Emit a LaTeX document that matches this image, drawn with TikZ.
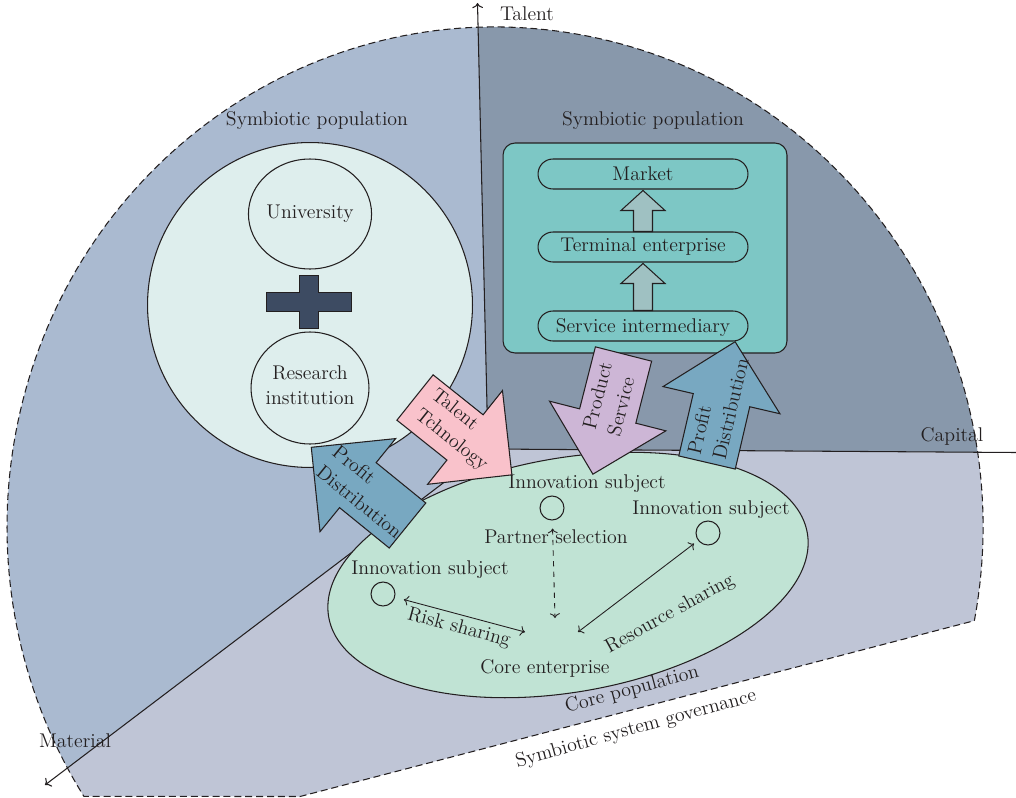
\documentclass[tikz,border=0pt]{standalone}
\usepackage{tkz-euclide}
\usetikzlibrary{shapes.geometric,calc}
\definecolor{LeftClr}{RGB}{170,186,208}
\definecolor{TopClr}{RGB}{136,152,171}
\definecolor{BotClr}{RGB}{191,197,214}
\definecolor{CircClr}{RGB}{222,238,237}
\definecolor{CoreClr}{RGB}{192,227,212}
\definecolor{BoxClr}{RGB}{125,199,197}
\definecolor{StepClr}{RGB}{159,193,194}
\definecolor{PinkClr}{RGB}{249,194,203}
\definecolor{LilacClr}{RGB}{205,182,214}
\definecolor{FlowClr}{RGB}{120,168,193}
\definecolor{PlusClr}{RGB}{61,75,98}
\definecolor{LineClr}{RGB}{35,31,32}

\begin{document}
\begin{tikzpicture}[x=0.02cm,y=-0.02cm,color=LineClr,line width=0.6pt,
  font=\fontsize{11.3}{14.5}\selectfont,
  popborder/.style={dash pattern=on 4pt off 2.2pt,line width=0.6pt},
  pillbox/.style={draw,fill=BoxClr,rounded corners=0.3cm,minimum width=4.2cm,minimum height=0.6cm,inner sep=0},
  membercirc/.style={draw,ellipse,fill=CircClr,minimum width=2.36cm,minimum height=2.2cm,inner sep=0,align=center},
  subjectcirc/.style={draw,circle,minimum size=0.48cm,inner sep=0},
  arrowtext/.style={align=left,inner sep=0,anchor=west},
  sharelink/.style={<->,line width=0.5pt},
  pics/blockarrow/.style={code={
    \draw[pic actions] (0,-29) -- (64,-29) -- (64,-60) -- (124,0) -- (64,60) -- (64,29) -- (0,29) -- cycle;}},
  pics/stepup/.style={code={
    \draw[pic actions] (0,-9.5) -- (#1-20,-9.5) -- (#1-20,-22) -- (#1,0) -- (#1-20,22) -- (#1-20,9.5) -- (0,9.5) -- cycle;}}]
\useasboundingbox (0,0) rectangle (1016,797);
\tkzSetUpLine[line width=0.6pt,color=LineClr]

\tkzDefPoints{488/449/O,477.5/3/T,1016/452.5/K,45/785/M}

% the three sectors
\begin{scope}
\clip ([shift={(495,527)}]10.8:488 and 500) arc[start angle=10.8,end angle=-212.6,x radius=488,y radius=500]
  -- (300,796.5) -- cycle;
\fill[LeftClr] (O) -- (477,-10) -- (-10,-10) -- (-10,826.6) -- cycle;
\fill[TopClr] (O) -- (477,-10) -- (1100,-10) -- (1100,453.7) -- cycle;
\fill[BotClr] (O) -- (1100,453.7) -- (1100,900) -- (-10,900) -- (-10,826.6) -- cycle;
\end{scope}
\draw[popborder] ([shift={(495,527)}]10.8:488 and 500) arc[start angle=10.8,end angle=-212.6,x radius=488,y radius=500]
  -- (300,796.5) -- cycle;

\tkzDrawSegments[->](O,T O,M)
\tkzDrawSegment(O,K)

\node (talent) at (527,14) {Talent};
\node (capital) at (952,436) {Capital};
\node (material) at (75,741) {Material};

% left symbiotic population
\node (leftpop) at (317,121) {Symbiotic population};
\node[draw,circle,fill=CircClr,minimum size=6.5cm,inner sep=0] (sympop) at (310,305) {};
\node[membercirc] (univ) at (310,214) {University};
\node[membercirc,minimum height=2.24cm] (resinst) at (310,388) {};
\node[align=center] (resinstlbl) at (310,385) {Research\\institution};
\draw[fill=PlusClr,line width=0.5pt] (299,275) -- (318,275) -- (318,292) -- (351,292) -- (351,311) -- (318,311)
  -- (318,328) -- (299,328) -- (299,311) -- (266,311) -- (266,292) -- (299,292) -- cycle;

% right symbiotic population
\node (rightpop) at (653,121) {Symbiotic population};
\node[draw,fill=BoxClr,rounded corners=0.24cm,minimum width=5.68cm,minimum height=4.2cm] (chainbox) at (645,248) {};
\node[pillbox] (market) at (643,174) {Market};
\node[pillbox] (terminal) at (643,247) {Terminal enterprise};
\node[pillbox] (service) at (643,326) {};
\node (servicelbl) at (643,328) {Service intermediary};
\pic[fill=StepClr,rotate=90] at (terminal.north) {stepup=41};
\pic[fill=StepClr,rotate=90] at (service.north) {stepup=47};

% core population
\node[draw,ellipse,fill=CoreClr,minimum width=9.72cm,minimum height=4.68cm,rotate=10] (corepop) at (568,575) {};
\node[subjectcirc] (subtop) at (552,508) {};
\node[subjectcirc] (subright) at (708,533) {};
\node[subjectcirc] (subleft) at (383,594) {};
\node (subtoplbl) at (587,484) {Innovation subject};
\node (subrightlbl) at (711,510) {Innovation subject};
\node (subleftlbl) at (430,570) {Innovation subject};
\node (partner) at (556,537) {Partner selection};
\node (coreent) at (545,668) {Core enterprise};
\coordinate (riskend) at (525,632);
\coordinate (partend) at (555,618);
\coordinate (resend) at (578,632);
\draw[sharelink,shorten <=0.18cm] (subleft) -- (riskend);
\draw[sharelink,dashed,shorten <=0.16cm] (subtop) -- (partend);
\draw[sharelink,shorten <=0.1cm] (subright) -- (resend);
\node[rotate=-15] (risk) at (459,628) {Risk sharing};
\node[rotate=29] (resource) at (670,614) {Resource sharing};
\node[rotate=15] (corelbl) at (632,690) {Core population};
\node[rotate=15.5] (governance) at (636,729) {Symbiotic system governance};

% flows between populations
\pic[draw,fill=PinkClr,rotate=-38.6] at (415,397.5) {blockarrow};
\pic[draw,fill=FlowClr,rotate=140.9] at (407.5,525.5) {blockarrow};
\pic[draw,fill=LilacClr,rotate=-104.3] at (623.5,354) {blockarrow};
\pic[draw,fill=FlowClr,rotate=76.9] at (707,462.5) {blockarrow};
\node[arrowtext,rotate=-38.6] (talenttech) at (425,403) {Talent\\Tchnology};
\node[arrowtext,rotate=-39] (profitleft) at (327,459) {Profit\\Distribution};
\node[arrowtext,rotate=75.7] (product) at (601,433) {Product\\Service};
\node[arrowtext,rotate=76.9] (profitright) at (706,457) {Profit\\Distribution};

\end{tikzpicture}
\end{document}
